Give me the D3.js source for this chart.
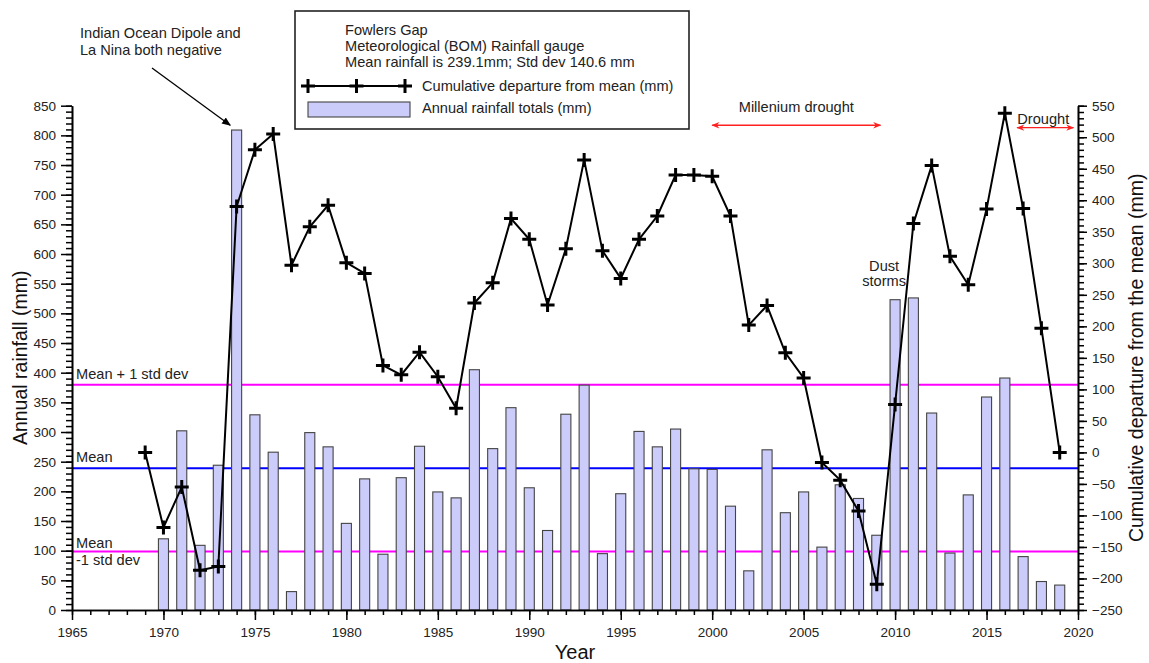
<!DOCTYPE html>
<html>
<head>
<meta charset="utf-8">
<script src="https://cdn.jsdelivr.net/npm/d3@7/dist/d3.min.js"></script>
<style>
  body { margin: 0; background: #fff; }
  svg { display: block; font-family: "Liberation Sans", Arial, sans-serif; }
  .tick text { fill: #222; }
</style>
</head>
<body>
<svg id="chart" width="1149" height="663"></svg>
<script>
// Fowlers Gap annual rainfall (mm), 1970-2019
const rainYears = d3.range(1970, 2020);
const rainfall = [120, 302, 109, 244, 809, 329, 266, 31, 299, 275,
                  146, 221, 94, 223, 276, 199, 189, 405, 272, 341,
                  206, 134, 330, 379, 95, 196, 301, 275, 305, 238,
                  237, 175, 66, 270, 164, 199, 106, 211, 188, 126,
                  523, 526, 332, 96, 194, 359, 391, 90, 48, 42];

// Cumulative departure from the mean (mm), 1969-2019
const cumYears = d3.range(1969, 2020);
const cumulative = [0, -119, -55, -187, -181, 390, 480, 505, 297, 358,
                    392, 301, 284, 138, 123, 159, 120, 70, 237, 269,
                    371, 338, 234, 323, 464, 320, 276, 338, 375, 440,
                    440, 438, 375, 202, 233, 158, 118, -16, -44, -93,
                    -209, 76, 363, 455, 311, 266, 386, 538, 387, 197, 0];

const meanRain = 239.1;
const stdRain = 140.6;

const xTicks = d3.range(1965, 2021, 5);
const leftTicks = d3.range(0, 851, 50);
const rightTicks = d3.range(-250, 551, 50);

const svg = d3.select("#chart");
const plotL = 72, plotR = 1078, plotT = 105.7, plotB = 610;
const noteSize = "14.6px";

const x = d3.scaleLinear().domain([1965, 2020]).range([plotL, plotR]);
const y = d3.scaleLinear().domain([0, 850]).range([plotB, plotT]);
const y2 = d3.scaleLinear().domain([-250, 550]).range([plotB, plotT]);

// Reference lines: mean and +/- one standard deviation
const refLines = [
  { v: meanRain + stdRain, color: "#ff00ff" },
  { v: meanRain, color: "#0000ff" },
  { v: meanRain - stdRain, color: "#ff00ff" }
];
svg.append("g").selectAll("line").data(refLines).join("line")
  .attr("x1", plotL).attr("x2", plotR)
  .attr("y1", d => y(d.v)).attr("y2", d => y(d.v))
  .attr("stroke", d => d.color).attr("stroke-width", 2);

// Annual rainfall bars
const barW = (x(1) - x(0)) * 0.55;
svg.append("g").selectAll("rect").data(rainYears).join("rect")
  .attr("x", (d) => x(d) - barW / 2)
  .attr("width", barW)
  .attr("y", (d, i) => y(rainfall[i]))
  .attr("height", (d, i) => y(0) - y(rainfall[i]))
  .attr("fill", "#ccccfa")
  .attr("stroke", "#444")
  .attr("stroke-width", 1.1);

// Cumulative departure line with cross markers
const cumData = cumYears.map((yr, i) => [yr, cumulative[i]]);
svg.append("path").datum(cumData)
  .attr("fill", "none").attr("stroke", "#000").attr("stroke-width", 2)
  .attr("d", d3.line().x(d => x(d[0])).y(d => y2(d[1])));
const cross = "M-7,0H7M0,-7V7";
svg.append("g").selectAll("path").data(cumData).join("path")
  .attr("transform", d => `translate(${x(d[0])},${y2(d[1])})`)
  .attr("d", cross).attr("stroke", "#000").attr("stroke-width", 3);

// Axes
function styleAxis(g) {
  g.select(".domain").attr("stroke", "#000").attr("stroke-width", 1.6);
  g.selectAll(".tick line").attr("stroke", "#000").attr("stroke-width", 1.5);
  g.selectAll(".tick text").attr("font-size", "13.5px");
}
const gx = svg.append("g").attr("transform", `translate(0,${plotB})`)
  .call(d3.axisBottom(x).tickValues(xTicks).tickFormat(d3.format("d"))
    .tickSize(10).tickPadding(7).tickSizeOuter(0));
styleAxis(gx);
const gxm = svg.append("g").attr("transform", `translate(0,${plotB})`)
  .call(d3.axisBottom(x).tickValues(d3.range(1965, 2021, 1)).tickFormat("")
    .tickSize(5).tickSizeOuter(0));
styleAxis(gxm);

const gy = svg.append("g").attr("transform", `translate(${plotL},0)`)
  .call(d3.axisLeft(y).tickValues(leftTicks).tickSize(11).tickPadding(5).tickSizeOuter(0));
styleAxis(gy);
const gym = svg.append("g").attr("transform", `translate(${plotL},0)`)
  .call(d3.axisLeft(y).tickValues(d3.range(0, 851, 10)).tickFormat("").tickSize(6).tickSizeOuter(0));
styleAxis(gym);

const gy2 = svg.append("g").attr("transform", `translate(${plotR},0)`)
  .call(d3.axisRight(y2).tickValues(rightTicks).tickSize(9).tickPadding(5).tickSizeOuter(0));
styleAxis(gy2);
const gy2m = svg.append("g").attr("transform", `translate(${plotR},0)`)
  .call(d3.axisRight(y2).tickValues(d3.range(-250, 551, 10)).tickFormat("").tickSize(6).tickSizeOuter(0));
styleAxis(gy2m);

// Axis titles
svg.append("text").attr("x", (plotL + plotR) / 2).attr("y", 659)
  .attr("text-anchor", "middle").attr("font-size", "20px").attr("fill", "#111").text("Year");
svg.append("text").attr("transform", `translate(27,${(plotT + plotB) / 2}) rotate(-90)`)
  .attr("text-anchor", "middle").attr("font-size", "19.5px").attr("fill", "#111").text("Annual rainfall (mm)");
svg.append("text").attr("transform", `translate(1143,${(plotT + plotB) / 2}) rotate(-90)`)
  .attr("text-anchor", "middle").attr("font-size", "19.5px").attr("fill", "#111")
  .text("Cumulative departure from the mean (mm)");

// Reference line labels
const lbl = svg.append("g").attr("font-size", noteSize).attr("fill", "#222");
lbl.append("text").attr("x", 76).attr("y", y(meanRain + stdRain) - 6).text("Mean + 1 std dev");
lbl.append("text").attr("x", 76).attr("y", y(meanRain) - 6).text("Mean");
lbl.append("text").attr("x", 76).attr("y", y(meanRain - stdRain) - 4).text("Mean");
lbl.append("text").attr("x", 76).attr("y", y(meanRain - stdRain) + 13).text("-1 std dev");

// Arrow markers
const defs = svg.append("defs");
defs.append("marker").attr("id", "arrowBlack").attr("viewBox", "0 0 10 10")
  .attr("refX", 9).attr("refY", 5).attr("markerWidth", 9).attr("markerHeight", 9)
  .attr("markerUnits", "userSpaceOnUse").attr("orient", "auto")
  .append("path").attr("d", "M0,1L10,5L0,9z").attr("fill", "#000");
defs.append("marker").attr("id", "arrowRed").attr("viewBox", "0 0 10 10")
  .attr("refX", 9).attr("refY", 5).attr("markerWidth", 9).attr("markerHeight", 8)
  .attr("markerUnits", "userSpaceOnUse").attr("orient", "auto-start-reverse")
  .append("path").attr("d", "M0,1L10,5L0,9L3,5z").attr("fill", "#ff2020");

// Climate driver annotation
const ann = svg.append("g").attr("font-size", noteSize).attr("fill", "#222");
ann.append("text").attr("x", 80).attr("y", 38).text("Indian Ocean Dipole and");
ann.append("text").attr("x", 80).attr("y", 55).text("La Nina both negative");
svg.append("line").attr("x1", 152).attr("y1", 68)
  .attr("x2", x(1973.65)).attr("y2", y(817))
  .attr("stroke", "#000").attr("stroke-width", 1.3).attr("marker-end", "url(#arrowBlack)");

// Drought period arrows
const droughts = [
  { from: 2000, to: 2009.2, yv: 817, label: "Millenium drought", lx: 2004.6, ly: 112 },
  { from: 2016.67, to: 2019.75, yv: 813, label: "Drought", lx: 2018.1, ly: 124 }
];
svg.append("g").selectAll("line").data(droughts).join("line")
  .attr("x1", d => x(d.from)).attr("x2", d => x(d.to))
  .attr("y1", d => y(d.yv)).attr("y2", d => y(d.yv))
  .attr("stroke", "#ff2020").attr("stroke-width", 1.4)
  .attr("marker-start", "url(#arrowRed)").attr("marker-end", "url(#arrowRed)");
svg.append("g").selectAll("text").data(droughts).join("text")
  .attr("x", d => x(d.lx)).attr("y", d => d.ly)
  .attr("text-anchor", "middle").attr("font-size", noteSize).attr("fill", "#222")
  .text(d => d.label);

// Dust storms note
const dust = svg.append("g").attr("font-size", noteSize).attr("fill", "#222").attr("text-anchor", "middle");
dust.append("text").attr("x", x(2009.4)).attr("y", 271).text("Dust");
dust.append("text").attr("x", x(2009.4)).attr("y", 286).text("storms");

// Legend
const lg = svg.append("g");
lg.append("rect").attr("x", 295).attr("y", 11).attr("width", 394).attr("height", 118)
  .attr("fill", "#fff").attr("stroke", "#222").attr("stroke-width", 1.6);
const lgText = lg.append("g").attr("font-size", noteSize).attr("fill", "#222");
lgText.append("text").attr("x", 345).attr("y", 35).text("Fowlers Gap");
lgText.append("text").attr("x", 345).attr("y", 51).text("Meteorological (BOM) Rainfall gauge");
lgText.append("text").attr("x", 345).attr("y", 67).text("Mean rainfall is 239.1mm; Std dev 140.6 mm");
lgText.append("text").attr("x", 422).attr("y", 91).text("Cumulative departure from mean (mm)");
lgText.append("text").attr("x", 422).attr("y", 113).text("Annual rainfall totals (mm)");
lg.append("line").attr("x1", 308).attr("x2", 405).attr("y1", 86).attr("y2", 86)
  .attr("stroke", "#000").attr("stroke-width", 2);
lg.selectAll("path.lgc").data([308, 356.5, 405]).join("path").attr("class", "lgc")
  .attr("transform", d => `translate(${d},86)`)
  .attr("d", cross).attr("stroke", "#000").attr("stroke-width", 3);
lg.append("rect").attr("x", 308).attr("y", 102).attr("width", 102).attr("height", 15)
  .attr("fill", "#ccccfa").attr("stroke", "#444").attr("stroke-width", 1.1);
</script>
</body>
</html>
